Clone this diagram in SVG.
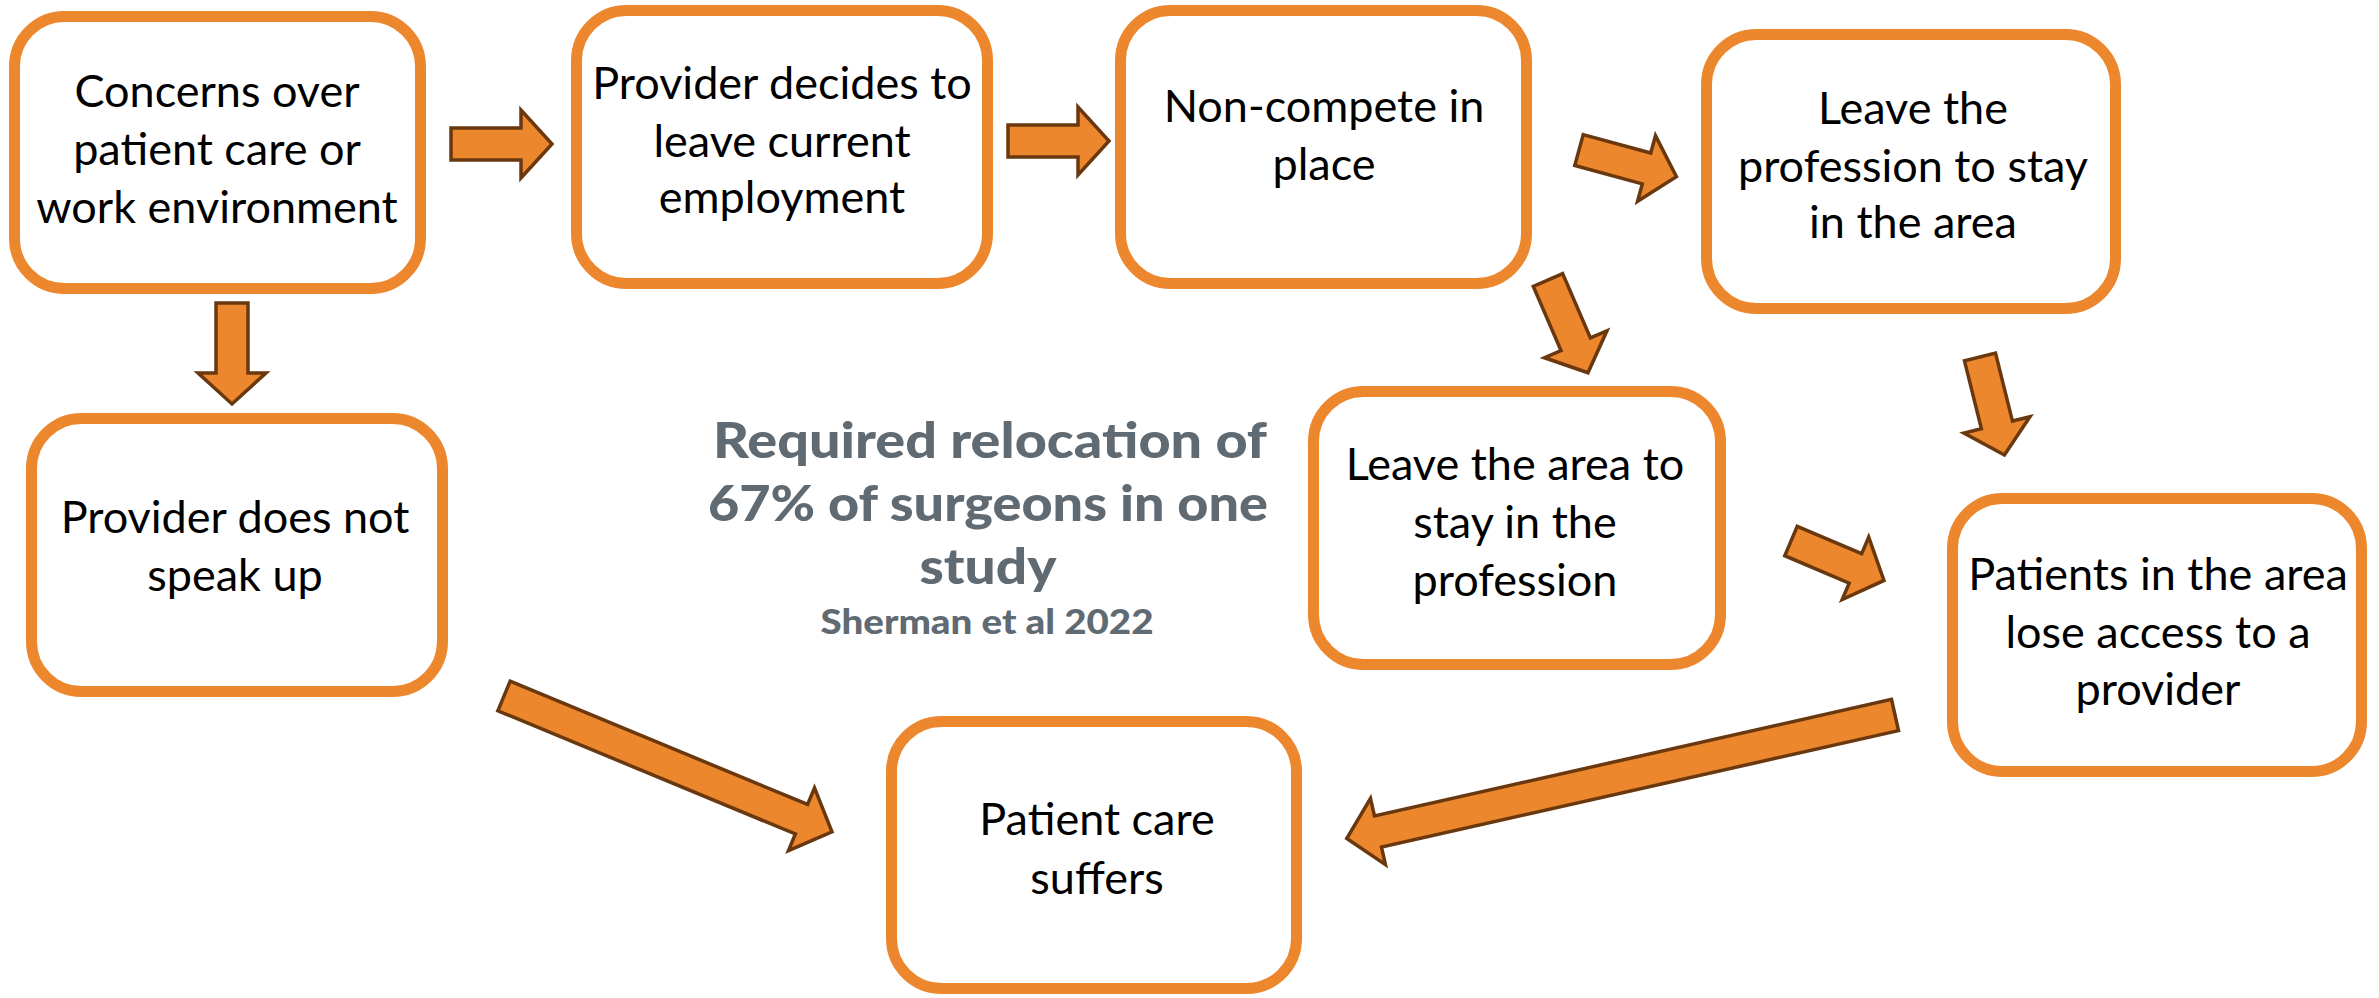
<svg xmlns="http://www.w3.org/2000/svg" width="2379" height="998" viewBox="0 0 2379 998">
  <style>
    .box { fill: #ffffff; stroke: #ED872D; stroke-width: 11; }
    .lbl { font-family: Lato, "Open Sans", "Liberation Sans", sans-serif; font-size: 45px; fill: #000000; text-anchor: middle; }
    .note { font-family: Lato, "Open Sans", "Liberation Sans", sans-serif; font-weight: 900; fill: #5F6A73; text-anchor: middle; }
    .arrow { fill: #ED872D; stroke: #6A380E; stroke-width: 3.5; stroke-linejoin: miter; }
  </style>
  <defs>
    <!-- block arrow, tail at origin, pointing along +x -->
    <path id="blk" d="M0,-16 H70 V-34 L101,0 L70,34 V16 H0 Z"/>
  </defs>
  <rect width="2379" height="998" fill="#ffffff"/>

  <g id="connectors">
    <use href="#blk" class="arrow" transform="translate(451,144)"/>
    <use href="#blk" class="arrow" transform="translate(1008,141)"/>
    <use href="#blk" class="arrow" transform="translate(232,303) rotate(90)"/>
    <use href="#blk" class="arrow" transform="translate(1579,150) rotate(15.3)"/>
    <use href="#blk" class="arrow" transform="translate(1548,280) rotate(66.7)"/>
    <use href="#blk" class="arrow" transform="translate(1980,357) rotate(76)"/>
    <use href="#blk" class="arrow" transform="translate(1791,541) rotate(23)"/>
    <path class="arrow" transform="translate(504,696) rotate(22.5)" d="M0,-16 H322 V-34 L355,0 L322,34 V16 H0 Z"/>
    <path class="arrow" transform="translate(1895,715) rotate(167.3)" d="M0,-16 H530 V-34 L562,0 L530,34 V16 H0 Z"/>
  </g>

  <g id="concerns">
    <rect class="box" x="14.5" y="16.5" width="406" height="272" rx="50"/>
    <text class="lbl" x="217" y="107">Concerns over</text>
    <text class="lbl" x="217" y="165">patient care or</text>
    <text class="lbl" x="217" y="223">work environment</text>
  </g>

  <g id="decides">
    <rect class="box" x="576.5" y="10.5" width="411" height="273" rx="50"/>
    <text class="lbl" x="782" y="99">Provider decides to</text>
    <text class="lbl" x="782" y="157">leave current</text>
    <text class="lbl" x="782" y="213">employment</text>
  </g>

  <g id="noncompete">
    <rect class="box" x="1120.5" y="10.5" width="406" height="273" rx="50"/>
    <text class="lbl" x="1324" y="122">Non-compete in</text>
    <text class="lbl" x="1324" y="180">place</text>
  </g>

  <g id="leave-profession">
    <rect class="box" x="1706.5" y="34.5" width="409" height="274" rx="50"/>
    <text class="lbl" x="1913" y="124">Leave the</text>
    <text class="lbl" x="1913" y="182">profession to stay</text>
    <text class="lbl" x="1913" y="238">in the area</text>
  </g>

  <g id="silent">
    <rect class="box" x="31.5" y="418.5" width="411" height="273" rx="50"/>
    <text class="lbl" x="235" y="533">Provider does not</text>
    <text class="lbl" x="235" y="591">speak up</text>
  </g>

  <g id="leave-area">
    <rect class="box" x="1313.5" y="391.5" width="407" height="273" rx="50"/>
    <text class="lbl" x="1515" y="480">Leave the area to</text>
    <text class="lbl" x="1515" y="538">stay in the</text>
    <text class="lbl" x="1515" y="596">profession</text>
  </g>

  <g id="access">
    <rect class="box" x="1952.5" y="498.5" width="409" height="273" rx="50"/>
    <text class="lbl" x="2158" y="590">Patients in the area</text>
    <text class="lbl" x="2158" y="648">lose access to a</text>
    <text class="lbl" x="2158" y="705">provider</text>
  </g>

  <g id="care-suffers">
    <rect class="box" x="891.5" y="721.5" width="405" height="267" rx="50"/>
    <text class="lbl" x="1097" y="835">Patient care</text>
    <text class="lbl" x="1097" y="894">suffers</text>
  </g>

  <g id="relocation-note">
    <text class="note" x="990" y="458" font-size="50" textLength="554" lengthAdjust="spacingAndGlyphs">Required relocation of</text>
    <text class="note" x="988" y="521" font-size="50" textLength="560" lengthAdjust="spacingAndGlyphs">67% of surgeons in one</text>
    <text class="note" x="988" y="584" font-size="50" textLength="137" lengthAdjust="spacingAndGlyphs">study</text>
    <text class="note" x="987" y="634" font-size="34" textLength="333" lengthAdjust="spacingAndGlyphs">Sherman et al 2022</text>
  </g>
</svg>
